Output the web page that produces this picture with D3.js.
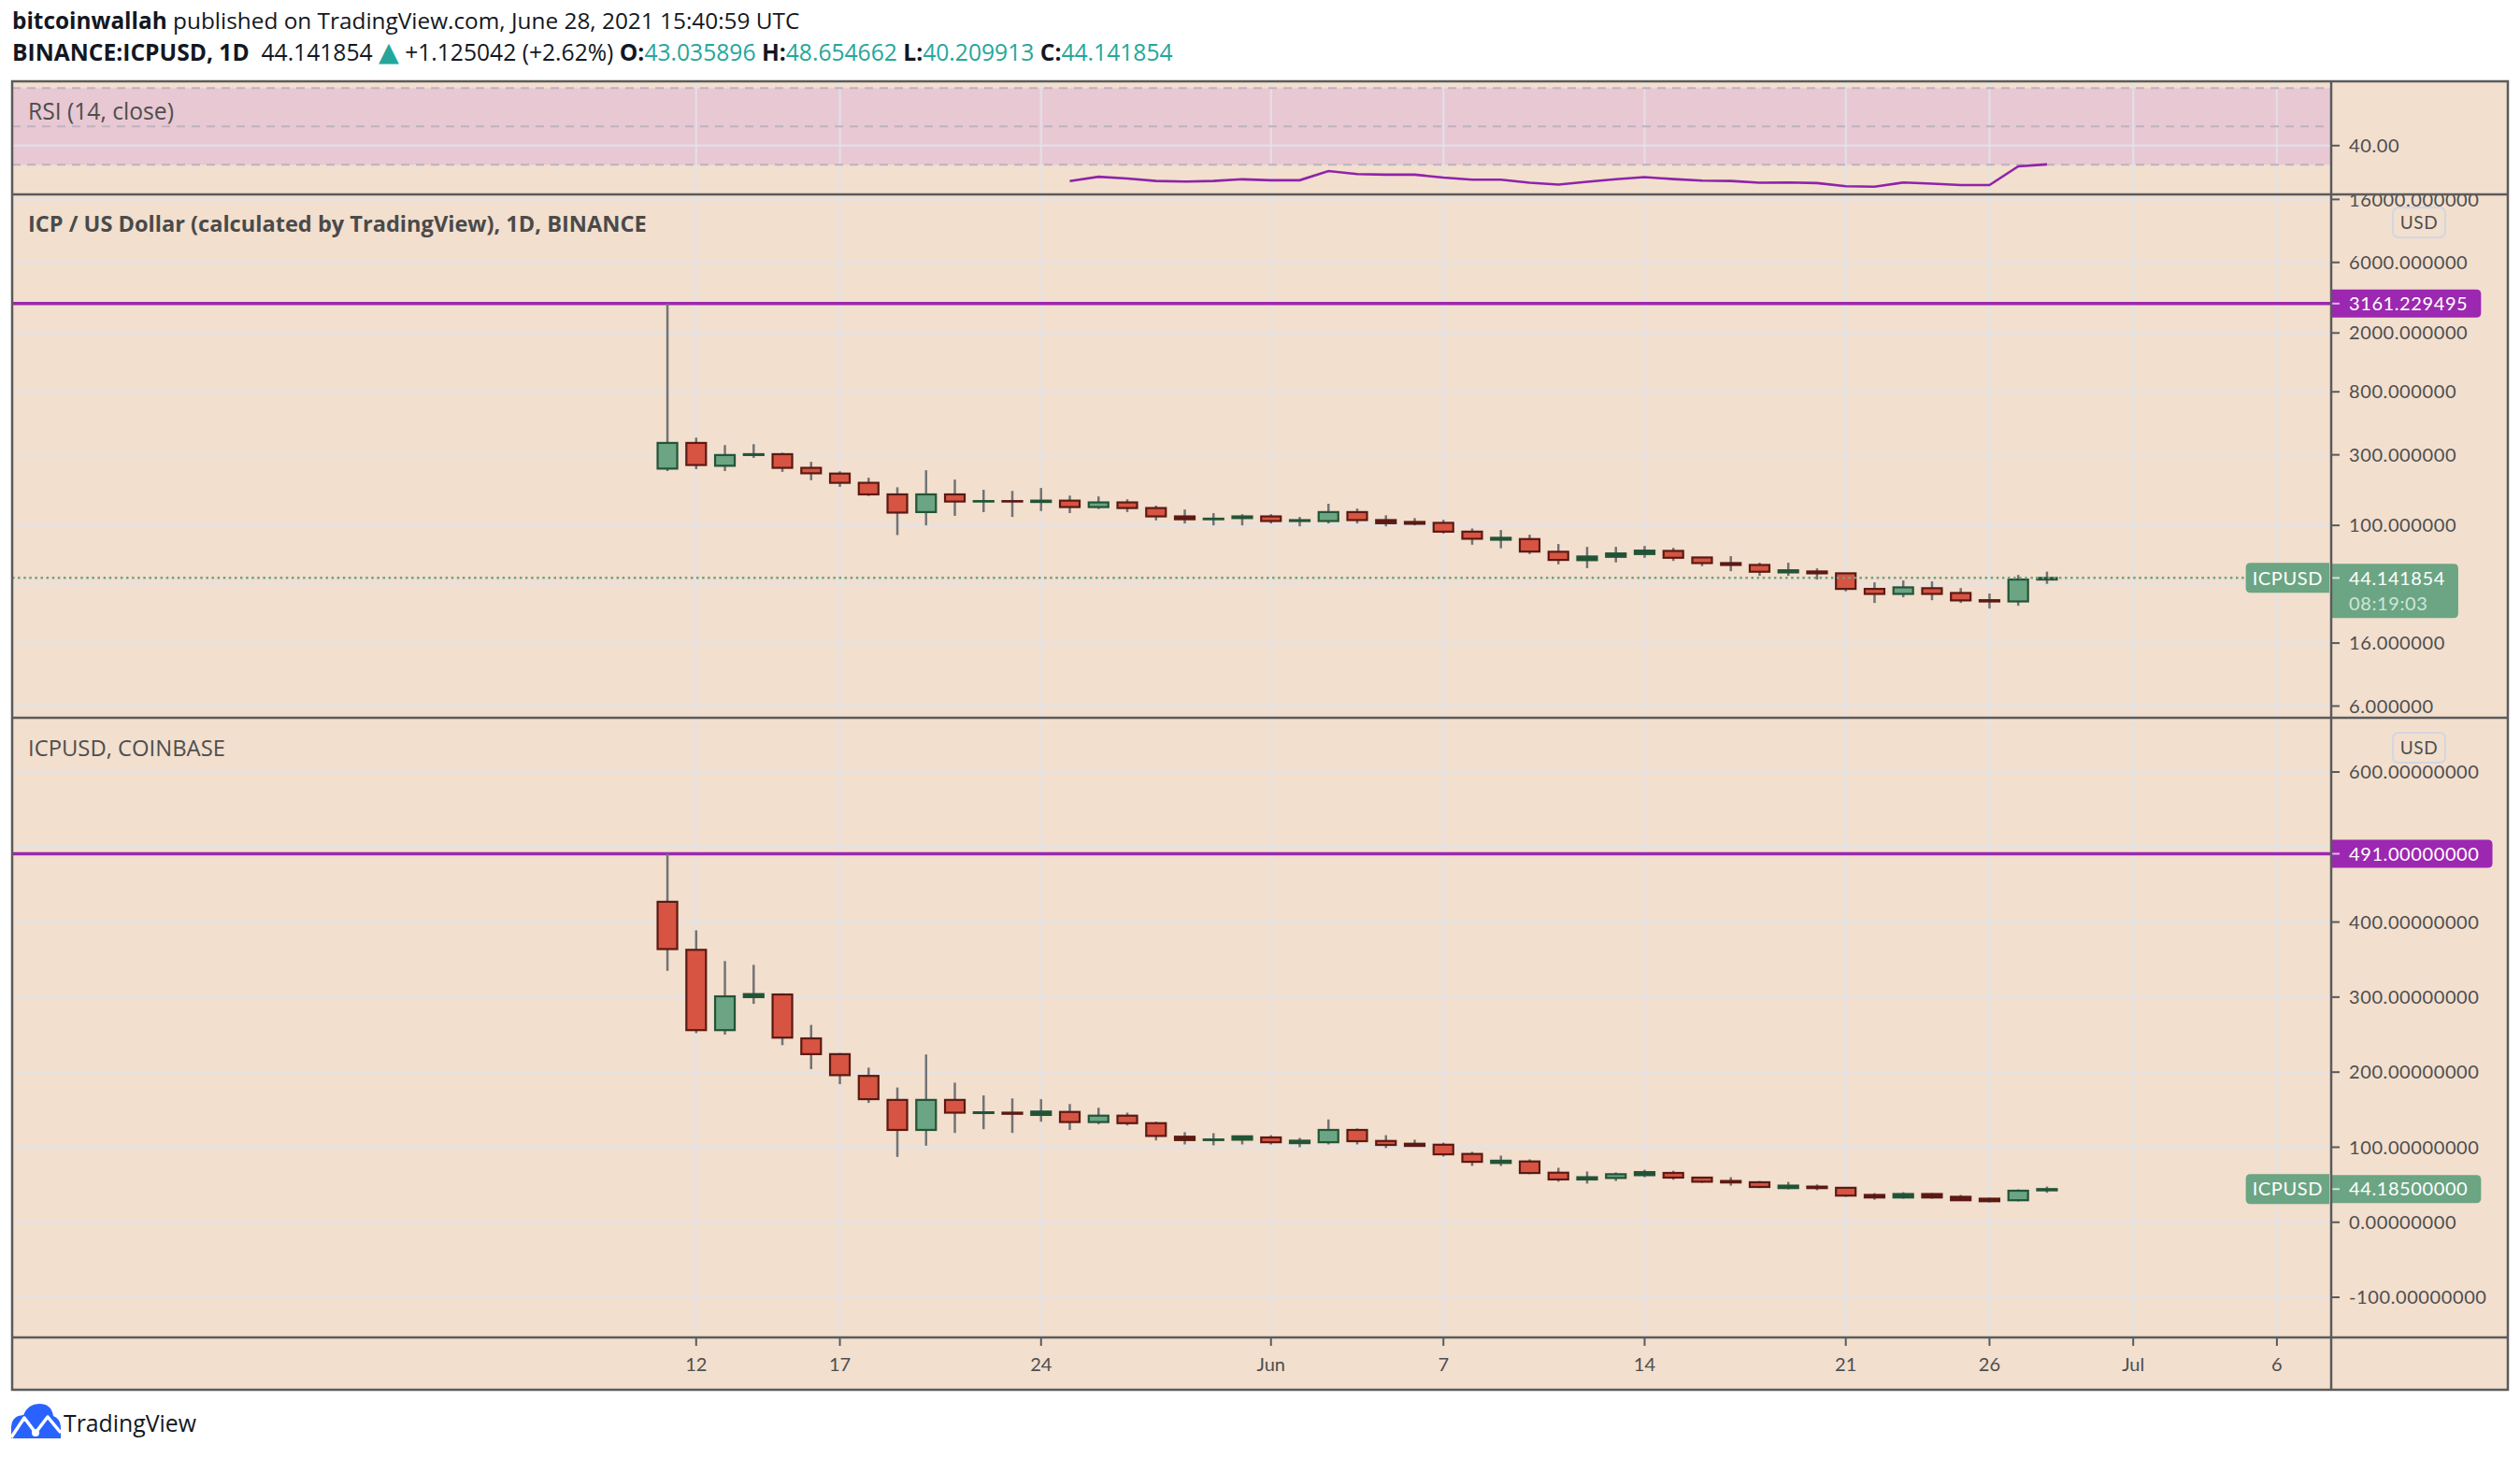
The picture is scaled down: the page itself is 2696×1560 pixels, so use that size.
<!DOCTYPE html>
<html lang="en">
<head>
<meta charset="UTF-8">
<title>ICPUSD daily</title>
<script src="https://d3js.org/d3.v7.min.js"></script>
<style>
  body { margin: 0; background: #ffffff; }
  svg { display: block; font-family: "Open Sans", Lato, sans-serif; }
  .num { font-family: Lato, "Open Sans", sans-serif; }
</style>
</head>
<body>
<svg id="chart"></svg>
<script>
// daily candles, one per day
const days = ["2021-05-11","2021-05-12","2021-05-13","2021-05-14","2021-05-15","2021-05-16","2021-05-17",
  "2021-05-18","2021-05-19","2021-05-20","2021-05-21","2021-05-22","2021-05-23","2021-05-24","2021-05-25",
  "2021-05-26","2021-05-27","2021-05-28","2021-05-29","2021-05-30","2021-05-31","2021-06-01","2021-06-02",
  "2021-06-03","2021-06-04","2021-06-05","2021-06-06","2021-06-07","2021-06-08","2021-06-09","2021-06-10",
  "2021-06-11","2021-06-12","2021-06-13","2021-06-14","2021-06-15","2021-06-16","2021-06-17","2021-06-18",
  "2021-06-19","2021-06-20","2021-06-21","2021-06-22","2021-06-23","2021-06-24","2021-06-25","2021-06-26",
  "2021-06-27","2021-06-28"];

// BINANCE (log pane)
const binanceOpen = [242,361,253,299,303,245,224,194,162,123,162,145,146,144,147,133,143,131,115,110,112,115,107,107,123,108.6,105.5,104,90.7,80,80.8,66.3,58.2,61.3,64,67.2,60.7,55.6,54,48.1,48.8,47.4,37.2,34.4,37.6,34.9,31.2,30.6,43.04];
const binanceHigh = [3161.23,392,349,354,310,269,232,210,181,236,204,174,171,179,159,157,150,136,128,121,119,119,114,140,130,117,112,109,95.3,93,86.5,74.8,71.6,71.6,72.6,70.5,61,61.9,55.9,55.9,51.2,47.6,41.2,42.4,41.8,37.7,34.6,46.2,48.65];
const binanceLow = [233,240,233,286,230,202,182,158,86,100,116,123,114,125,121,129,123,108,103,100,100,103,98.5,103,103,98.5,100,88,74,70,64,54.5,51.4,56.2,60.4,57.5,53,49,45.6,45.6,43,35.8,29.9,32.6,31.2,29.9,27.4,28.6,40.21];
const binanceClose = [361,256,299,303,245,225,194,162,122,162,145,146,145,147,133,143,131,115,110,111,115,107,108.5,123,108.6,103.4,102.5,90.7,81.2,82.4,66.5,58.4,61.6,64.6,67.5,60.4,55.6,54,48.6,49.7,47.4,37.2,34.4,38.1,34.4,31.1,30.6,43.02,44.14];

// COINBASE (linear pane)
const coinbaseOpen = [427,363,256,300,303.5,245,224,195,163,123,163,145.5,146,143,147,133.5,142,132,114,109.5,110,113,105.4,106.6,123,108.3,104.6,103.3,91,79,81,66,57,59,62.7,65.7,59.5,55,53.3,45.5,47.5,45.9,36.4,33,37.6,33.9,31.4,29.3,42.5];
const coinbaseHigh = [491,389,348,343,305,263,225.5,206,179.5,223.5,186,169,165,164,157.5,152.6,146,134,120,118.7,115,116,112.4,137,125,116,110,106,93.8,88.8,83.8,72.6,67.6,66.4,70,68.6,60,60,55,53.7,50.4,46.2,38.8,40,38.8,36.4,32.6,43.8,47.5];
const coinbaseLow = [335,252,250,291,236,204,184,159,87,102,119,124,119,134,123,130.6,129,109,103.7,102.5,103.7,103.7,100,103.7,103.7,98.8,101,87.6,75,75,64,54,51.5,55,60,56.6,52.5,48.8,45.5,43.8,42.6,33.9,30,31.4,31.4,29,26.4,27.7,39.3];
const coinbaseClose = [364,256,301,304,246,224,196,164,123,163,146,146.5,144.5,147.5,133.5,142,132,115,109.5,110.3,114.5,106.6,108.7,123,108,103,101.7,90.5,80.5,82,65.6,57,60,64,66.8,59.5,54,53,47,48.8,45.5,35.5,33,37.6,33,29.3,28,42,44.185];

// RSI(14) starts on the 15th candle
const rsiStart = 14;
const rsiValues = [21.5,23.7,22.8,21.5,21.2,21.5,22.4,21.9,21.9,26.7,25.1,24.8,24.8,23.3,22.2,22.2,20.6,19.6,21.1,22.4,23.5,22.5,21.7,21.5,20.6,20.7,20.4,18.8,18.5,20.7,20.1,19.4,19.4,29.2,30.2];

const binanceTicks = [16000, 6000, 2000, 800, 300, 100, 40, 16, 6];
const coinbaseTicks = [600, 500, 400, 300, 200, 100, 0, -100];
const rsiTicks = [40];
const rsiLevels = [70, 50, 30];
const timeTicks = ["2021-05-12","2021-05-17","2021-05-24","2021-06-01","2021-06-07","2021-06-14","2021-06-21","2021-06-26","2021-07-01","2021-07-06"];
const timeLabels = ["12","17","24","Jun","7","14","21","26","Jul","6"];

const binanceLevel = 3161.229495;
const coinbaseLevel = 491;
const binanceLast = 44.141854;
const coinbaseLast = 44.185;
const countdown = "08:19:03";

// ---- layout ----
const W = 2696, H = 1560;
const fLeft = 13, fRight = 2683, axisX = 2494;
const fTop = 87, fBottom = 1487;
const rsiPane = [87, 208], binPane = [208, 768], cbPane = [768, 1431], timeTop = 1431;

const bg = "#f2dfce", frame = "#5b5b5b", axisText = "#4e4e4e";
const upFill = "#6ba583", upLine = "#225437", downFill = "#d75442", downLine = "#5b1a13";
const wickColor = "#737375", levelColor = "#9c27b0";
const gridColor = "rgba(224,227,236,0.72)";

const parse = d3.utcParse("%Y-%m-%d");

const x = d3.scaleUtc()
  .domain([new Date("2021-04-18T04:48:00Z"), new Date("2021-07-07T21:20:00Z")])
  .range([fLeft, axisX]);
const yBin = d3.scaleLog().domain([5.0, 17300]).range([binPane[1], binPane[0]]);
const yCb = d3.scaleLinear().domain([-153.5, 672.2]).range([cbPane[1], cbPane[0]]);
const yRsi = d3.scaleLinear().domain([14.5, 73.6]).range([rsiPane[1], rsiPane[0]]);

const svg = d3.select("#chart").attr("width", W).attr("height", H);
const defs = svg.append("defs");

function clip(id, x0, y0, x1, y1) {
  defs.append("clipPath").attr("id", id)
    .append("rect").attr("x", x0).attr("y", y0).attr("width", x1 - x0).attr("height", y1 - y0);
  return `url(#${id})`;
}

// scale a text's font size so it spans the width seen in the screenshot
function fitText(sel, width) {
  const fs = +sel.attr("font-size");
  const w = sel.node().getComputedTextLength();
  sel.attr("font-size", (fs * width / w).toFixed(2));
  return sel;
}

// chart background
svg.append("rect").attr("x", fLeft).attr("y", fTop)
  .attr("width", fRight - fLeft).attr("height", fBottom - fTop).attr("fill", bg);

// ---- header ----
const h1 = svg.append("text").attr("x", fLeft).attr("y", 31)
  .attr("font-size", 23).attr("fill", "#131722");
h1.append("tspan").attr("font-weight", "bold").text("bitcoinwallah");
h1.append("tspan").text(" published on TradingView.com, June 28, 2021 15:40:59 UTC");
fitText(h1, 843);

const teal = "#26a69a";
const h2parts = [
  ["BINANCE:ICPUSD, 1D", "bold", "#131722"],
  ["  44.141854 ", "normal", "#131722"],
  ["▲", "normal", teal],
  [" +1.125042 (+2.62%) ", "normal", "#131722"],
  ["O:", "bold", "#131722"], ["43.035896", "normal", teal],
  [" H:", "bold", "#131722"], ["48.654662", "normal", teal],
  [" L:", "bold", "#131722"], ["40.209913", "normal", teal],
  [" C:", "bold", "#131722"], ["44.141854", "normal", teal]
];
const h2 = svg.append("text").attr("x", fLeft).attr("y", 65)
  .attr("font-size", 23).style("white-space", "pre");
h2parts.forEach(p => {
  const ts = h2.append("tspan").attr("font-weight", p[1]).attr("fill", p[2]).text(p[0]);
  if (p[0] === "▲") ts.attr("font-size", "1.15em").attr("font-family", "DejaVu Sans");
});
fitText(h2, 1242);

// ---- panes ----
function paneGrid(g, ticks, y, y0, y1) {
  g.selectAll(".hgrid").data(ticks).enter().append("line")
    .attr("x1", fLeft).attr("x2", axisX)
    .attr("y1", d => y(d)).attr("y2", d => y(d))
    .attr("stroke", gridColor).attr("stroke-width", 2.5);
  g.selectAll(".vgrid").data(timeTicks).enter().append("line")
    .attr("x1", d => x(parse(d))).attr("x2", d => x(parse(d)))
    .attr("y1", y0).attr("y2", y1)
    .attr("stroke", gridColor).attr("stroke-width", 2.5);
}

function candles(g, o, h, l, c, y) {
  const data = days.map((d, i) => ({ t: parse(d), o: o[i], h: h[i], l: l[i], c: c[i] }));
  const bw = 21;
  g.selectAll(".wick").data(data).enter().append("line")
    .attr("x1", d => x(d.t)).attr("x2", d => x(d.t))
    .attr("y1", d => y(d.h)).attr("y2", d => y(d.l))
    .attr("stroke", wickColor).attr("stroke-width", 2.5);
  g.selectAll(".body").data(data).enter().append("rect")
    .attr("x", d => x(d.t) - bw / 2)
    .attr("width", bw)
    .attr("y", d => y(Math.max(d.o, d.c)))
    .attr("height", d => Math.max(Math.abs(y(d.o) - y(d.c)), 0.5))
    .attr("fill", d => {
      const tiny = Math.abs(y(d.o) - y(d.c)) < 4;
      if (d.c >= d.o) return tiny ? upLine : upFill;
      return tiny ? downLine : downFill;
    })
    .attr("stroke", d => d.c >= d.o ? upLine : downLine)
    .attr("stroke-width", 2.2);
}

// tick labels hidden behind the coloured price boxes are left out, gridlines stay
function axisLabels(g, ticks, y, fmt, y0, y1, id, covered) {
  const a = g.append("g").attr("clip-path", clip(id, axisX, y0, fRight, y1));
  const shown = ticks.filter(d => !covered.some(b => y(d) + 9 > b[0] && y(d) - 9 < b[1]));
  a.selectAll("line").data(ticks).enter().append("line")
    .attr("x1", axisX).attr("x2", axisX + 9)
    .attr("y1", d => y(d)).attr("y2", d => y(d))
    .attr("stroke", frame).attr("stroke-width", 2);
  a.selectAll("text").data(shown).enter().append("text")
    .attr("class", "num")
    .attr("x", axisX + 19).attr("y", d => y(d)).attr("dy", "0.36em")
    .attr("font-size", 20).attr("fill", axisText).attr("letter-spacing", 0.6)
    .text(fmt);
}

function boxSpan(yPos, lines) {
  return [yPos - 15, yPos - 15 + (lines > 1 ? 58 : 30)];
}

function rightLabel(g, yPos, lines, fill, textFill, subFill) {
  const lab = g.append("g");
  const [t0, y1] = boxSpan(yPos, lines.length);
  const path = lab.append("path").attr("fill", fill);
  lab.append("line").attr("x1", axisX).attr("x2", axisX + 9).attr("y1", yPos).attr("y2", yPos)
    .attr("stroke", subFill).attr("stroke-width", 2);
  let wMax = 0;
  lines.forEach((s, i) => {
    const t = lab.append("text").attr("class", "num")
      .attr("x", axisX + 19).attr("y", yPos + i * 27).attr("dy", "0.36em")
      .attr("font-size", 20).attr("letter-spacing", 0.6)
      .attr("fill", i === 0 ? textFill : subFill).text(s);
    wMax = Math.max(wMax, t.node().getComputedTextLength());
  });
  const x1 = axisX + 19 + wMax + 14, r = 5;
  path.attr("d", `M${axisX},${t0} H${x1 - r} Q${x1},${t0} ${x1},${t0 + r} V${y1 - r} Q${x1},${y1} ${x1 - r},${y1} H${axisX} Z`);
}

function symbolTag(g, yPos, label, fill) {
  const tag = g.append("g");
  const t = tag.append("text").attr("class", "num").attr("y", yPos).attr("dy", "0.36em").attr("font-size", 20)
    .attr("letter-spacing", 0.6).attr("fill", "#ffffff").attr("text-anchor", "middle").text(label);
  const w = t.node().getComputedTextLength() + 14;
  const x1 = axisX - 2, x0 = x1 - w, r = 5, t0 = yPos - 16, y1 = yPos + 16;
  t.attr("x", (x0 + x1) / 2);
  tag.insert("path", "text").attr("fill", fill)
    .attr("d", `M${x1},${t0} H${x0 + r} Q${x0},${t0} ${x0},${t0 + r} V${y1 - r} Q${x0},${y1} ${x0 + r},${y1} H${x1} Z`);
}

function usdBox(g, cy) {
  g.append("rect").attr("x", 2560).attr("y", cy - 16).attr("width", 56).attr("height", 32)
    .attr("rx", 6).attr("fill", "none").attr("stroke", "#d3d6e0").attr("stroke-width", 2);
  g.append("text").attr("class", "num").attr("x", 2588).attr("y", cy).attr("dy", "0.36em")
    .attr("text-anchor", "middle")
    .attr("font-size", 19).attr("letter-spacing", 0.6).attr("fill", axisText).text("USD");
}

// RSI pane
const gR = svg.append("g");
const rsiPlot = gR.append("g").attr("clip-path", clip("cR", fLeft, rsiPane[0], axisX, rsiPane[1]));
rsiPlot.append("rect").attr("x", fLeft).attr("width", axisX - fLeft)
  .attr("y", yRsi(rsiLevels[0])).attr("height", yRsi(rsiLevels[2]) - yRsi(rsiLevels[0]))
  .attr("fill", "#e8c8d2");
paneGrid(rsiPlot, rsiTicks, yRsi, rsiPane[0], rsiPane[1]);
rsiPlot.selectAll(".lvl").data(rsiLevels).enter().append("line")
  .attr("x1", fLeft).attr("x2", axisX).attr("y1", d => yRsi(d)).attr("y2", d => yRsi(d))
  .attr("stroke", "#bcb2c2").attr("stroke-width", 2).attr("stroke-dasharray", "9,7");
rsiPlot.append("path")
  .datum(rsiValues.map((v, i) => ({ t: parse(days[rsiStart + i]), v })))
  .attr("fill", "none").attr("stroke", "#8e24aa").attr("stroke-width", 2.6)
  .attr("d", d3.line().x(d => x(d.t)).y(d => yRsi(d.v)));
axisLabels(gR, rsiTicks, yRsi, d => d.toFixed(2), rsiPane[0], rsiPane[1], "aR", []);
fitText(gR.append("text").attr("x", 30).attr("y", 128).attr("font-size", 22).attr("fill", axisText)
  .text("RSI (14, close)"), 156);

// BINANCE pane
const gB = svg.append("g");
const binPlot = gB.append("g").attr("clip-path", clip("cB", fLeft, binPane[0], axisX, binPane[1]));
paneGrid(binPlot, binanceTicks, yBin, binPane[0], binPane[1]);
binPlot.append("line").attr("x1", fLeft).attr("x2", axisX)
  .attr("y1", yBin(binanceLevel)).attr("y2", yBin(binanceLevel))
  .attr("stroke", levelColor).attr("stroke-width", 3.5);
candles(binPlot, binanceOpen, binanceHigh, binanceLow, binanceClose, yBin);
binPlot.append("line").attr("x1", fLeft).attr("x2", axisX)
  .attr("y1", yBin(binanceLast)).attr("y2", yBin(binanceLast))
  .attr("stroke", upFill).attr("stroke-width", 2.5).attr("stroke-dasharray", "2.5,3.6");
axisLabels(gB, binanceTicks, yBin, d => d.toFixed(6), binPane[0], binPane[1], "aB",
  [boxSpan(yBin(binanceLevel), 1), boxSpan(yBin(binanceLast), 2)]);
fitText(gB.append("text").attr("x", 30).attr("y", 248).attr("font-size", 22).attr("font-weight", "bold")
  .attr("fill", "#4a4a4a").text("ICP / US Dollar (calculated by TradingView), 1D, BINANCE"), 662);
usdBox(gB, 238);
rightLabel(gB, yBin(binanceLevel), [binanceLevel.toFixed(6)], levelColor, "#ffffff", "#e3b8ec");
rightLabel(gB, yBin(binanceLast), [binanceLast.toFixed(6), countdown], upFill, "#ffffff", "#cfe6d8");
symbolTag(gB, yBin(binanceLast), "ICPUSD", upFill);

// COINBASE pane
const gC = svg.append("g");
const cbPlot = gC.append("g").attr("clip-path", clip("cC", fLeft, cbPane[0], axisX, cbPane[1]));
paneGrid(cbPlot, coinbaseTicks, yCb, cbPane[0], cbPane[1]);
cbPlot.append("line").attr("x1", fLeft).attr("x2", axisX)
  .attr("y1", yCb(coinbaseLevel)).attr("y2", yCb(coinbaseLevel))
  .attr("stroke", levelColor).attr("stroke-width", 3.5);
candles(cbPlot, coinbaseOpen, coinbaseHigh, coinbaseLow, coinbaseClose, yCb);
axisLabels(gC, coinbaseTicks, yCb, d => d.toFixed(8), cbPane[0], cbPane[1], "aC",
  [boxSpan(yCb(coinbaseLevel), 1), boxSpan(yCb(coinbaseLast), 1)]);
fitText(gC.append("text").attr("x", 30).attr("y", 809).attr("font-size", 22)
  .attr("fill", axisText).text("ICPUSD, COINBASE"), 211);
usdBox(gC, 800);
rightLabel(gC, yCb(coinbaseLevel), [coinbaseLevel.toFixed(8)], levelColor, "#ffffff", "#e3b8ec");
rightLabel(gC, yCb(coinbaseLast), [coinbaseLast.toFixed(8)], upFill, "#ffffff", "#cfe6d8");
symbolTag(gC, yCb(coinbaseLast), "ICPUSD", upFill);

// time axis
const gT = svg.append("g");
gT.selectAll("line").data(timeTicks).enter().append("line")
  .attr("x1", d => x(parse(d))).attr("x2", d => x(parse(d)))
  .attr("y1", timeTop).attr("y2", timeTop + 9)
  .attr("stroke", frame).attr("stroke-width", 2);
gT.selectAll("text").data(timeTicks).enter().append("text")
  .attr("class", "num")
  .attr("x", d => x(parse(d))).attr("y", timeTop + 29).attr("dy", "0.36em")
  .attr("text-anchor", "middle").attr("font-size", 20).attr("fill", axisText)
  .text((d, i) => timeLabels[i]);

// frame and separators
const sep = svg.append("g").attr("stroke", frame).attr("stroke-width", 2.5);
[rsiPane[1], binPane[1], timeTop].forEach(yy =>
  sep.append("line").attr("x1", fLeft).attr("x2", fRight).attr("y1", yy).attr("y2", yy));
sep.append("line").attr("x1", axisX).attr("x2", axisX).attr("y1", fTop).attr("y2", fBottom);
sep.append("rect").attr("x", fLeft).attr("y", fTop).attr("width", fRight - fLeft)
  .attr("height", fBottom - fTop).attr("fill", "none");

// TradingView logo
const logo = svg.append("g");
logo.append("path").attr("fill", "#2962ff")
  .attr("d", "M12,1539 V1528 Q12,1515 25,1514 Q30,1502 42,1502 Q55,1502 57,1515 Q65,1518 65,1528 V1539 Z");
logo.append("polyline").attr("fill", "none").attr("stroke", "#ffffff").attr("stroke-width", 3.5)
  .attr("stroke-linejoin", "round")
  .attr("points", "12,1538 26,1517 38,1533 51,1516 65,1533");
logo.append("circle").attr("cx", 38).attr("cy", 1533).attr("r", 4).attr("fill", "#ffffff");
fitText(svg.append("text").attr("x", 68).attr("y", 1532).attr("font-size", 26).attr("fill", "#131722")
  .text("TradingView"), 142);
</script>
</body>
</html>
